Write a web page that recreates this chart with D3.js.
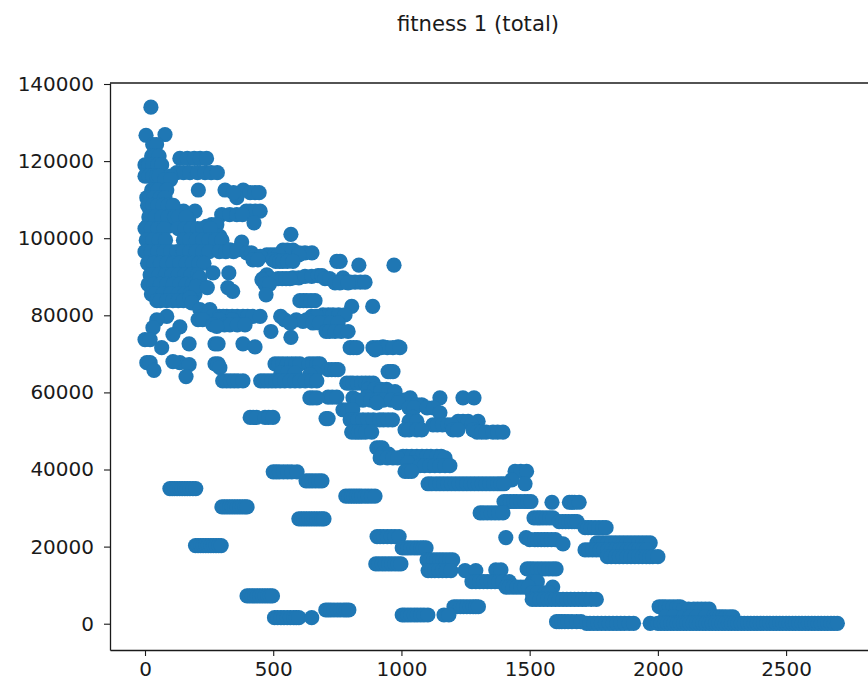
<!DOCTYPE html>
<html>
<head>
<meta charset="utf-8">
<script src="https://cdn.jsdelivr.net/npm/d3@7"></script>
<style>
  body { margin: 0; background: #fff; overflow: hidden; }
  text { font-family: "DejaVu Sans", sans-serif; fill: #1a1a1a; }
</style>
</head>
<body>
<svg id="chart" width="868" height="689"></svg>
<script>
const TITLE = 'fitness 1 (total)';
const xTicks = [0, 500, 1000, 1500, 2000, 2500];
const yTicks = [0, 20000, 40000, 60000, 80000, 100000, 120000, 140000];

// each row: [fitness, [evaluations...]]
const topLeftRows = [
  [134000, [23]], [126700, [4]], [126900, [78]], [124300, [30, 45]], [121300, [26, 40, 55]],
  [120700, [136, 165, 192, 215, 240]], [119000, [0, 15, 30, 50, 65]],
  [117000, [124, 150, 175, 205, 234, 258, 282]],
  [116100, [0, 15, 30, 45, 55, 100]], [115200, [78, 100]], [112500, [26, 40, 50, 85, 208, 312, 383]],
  [110500, [7, 20, 35, 60, 78, 358]], [111800, [345, 410, 429, 445]], [107000, [20, 40, 60, 90, 117, 150, 195, 395, 410, 430, 449]],
  [106100, [299, 330, 358, 380]], [104800, [149, 170]], [104000, [425]], [103500, [260, 280]],
  [103100, [7, 25, 45, 70, 90, 175, 240]], [101000, [569]], [101400, [214, 240]], [100500, [286, 292]],
  [99000, [377]],
];
const massRows = [
  [108500, [10, 30, 50, 70, 90, 110]],
  [105500, [15, 40, 65, 90, 115, 130, 160]],
  [102500, [0, 25, 50, 75, 130, 155, 180, 205, 225, 255]],
  [99500, [5, 30, 55, 80, 150, 175, 200, 225, 250, 275, 300]],
  [96500, [0, 25, 50, 75, 100, 125, 150, 175, 200, 225, 250, 290, 315, 345]],
  [93500, [10, 35, 60, 85, 110, 135, 160, 185, 210, 230]],
  [90500, [20, 30, 55, 80, 105, 130, 155, 180, 205]],
  [88000, [12, 35, 60, 85, 110, 135, 160, 185, 205]],
  [85500, [25, 40, 70, 100, 130, 155, 175, 195]],
  [83800, [46, 60, 85, 109, 130, 150, 182]],
];
const upperMidRows = [
  [97000, [331, 360]], [96900, [538, 555, 577]], [96200, [397, 415, 600, 624, 651]],
  [95700, [475, 490, 505, 520, 600]], [95300, [429, 450]], [94400, [421, 440, 499]],
  [94000, [510, 525, 538, 555, 577, 748, 761]], [93000, [834, 971]], [91000, [265, 327]],
  [90500, [475]], [89700, [214, 577, 600, 772]], [90100, [624, 650]], [90300, [675, 690]],
  [89500, [460, 490, 519, 535, 550, 565, 702, 720]], [89200, [456]], [88600, [780, 800, 819, 840, 858]],
  [88400, [741, 760, 792]], [88000, [468, 485]], [87500, [200]], [87200, [243, 323]], [86200, [342]], [85300, [472]],
  [83800, [604, 618, 631, 647, 663]], [84500, [175]], [83200, [182]], [82300, [806, 888]],
  [81500, [214, 253]], [80100, [694, 715, 733, 755, 780]],
  [79700, [85, 225, 240, 265, 290, 305, 319, 340, 360, 382, 400, 420, 449, 529, 650, 670]],
  [78900, [207, 225, 290, 340]], [78800, [46, 545, 590, 630]], [78400, [616]], [78000, [566, 702, 655, 680, 725, 753]],
  [77500, [265, 310, 331, 360, 390]], [77100, [280]], [77000, [136]], [76800, [31]],
  [75800, [491, 706, 720, 741, 765, 792]],
  [75000, [109]], [74300, [569]], [73700, [0, 20]], [72600, [172, 273, 285, 382]],
  [71800, [429, 928, 987]], [71600, [65, 800, 813, 826, 889, 905, 920, 945, 967, 994]], [71000, [897]],
];
const midRows = [
  [67700, [7, 20, 136]], [68000, [109]],
  [67400, [273, 285, 507, 522, 538, 555, 572, 588, 604, 640, 655, 670, 682]],
  [67200, [172]], [66400, [292]], [65900, [714, 728, 742, 753]], [65700, [35]], [65400, [948, 957, 967]],
  [65000, [530, 555, 585, 663]], [64600, [643]], [64100, [160]],
  [63000, [303, 318, 333, 348, 363, 382, 451, 465, 480, 495, 510, 527, 545, 566, 585, 604, 625, 650, 670]],
  [62400, [787, 800, 811, 828, 845, 860, 875, 890]], [60800, [870, 895, 920, 942]], [60200, [920, 950, 975]],
  [58900, [865]], [58800, [714, 730, 748]],
  [58600, [643, 655, 670, 811, 1034, 1150, 1240, 1283]],
  [58000, [830, 850, 880, 905, 930, 960, 990, 1010]],
  [57300, [904, 987]], [56800, [1079, 1060]], [56000, [1030, 1050, 1100, 1125]],
  [55500, [772, 790, 810]], [54700, [1150]],
  [53500, [410, 422, 435, 468, 482, 499, 1045]], [53200, [706, 714]],
  [52900, [800, 815, 830, 850, 870, 890, 915, 930, 948, 965]],
  [52500, [1030, 1060, 1221, 1240, 1260, 1299]], [51600, [1123, 1140, 1160, 1180, 1196, 1274]],
  [50300, [1014, 1030, 1060, 1079, 1201, 1220, 1279]],
  [49700, [806, 820, 832, 845, 860, 884, 1295, 1313, 1330, 1357, 1375, 1396]],
  [45600, [904, 915, 925]], [44000, [925, 950]],
  [43400, [1006, 1020, 1040, 1060, 1080, 1099, 1115, 1138, 1155]], [43000, [917, 945, 967, 985, 1170]],
  [41700, [1045, 1025]], [41000, [1072, 1090, 1111, 1130, 1150, 1170, 1189]],
  [39500, [1014, 1027, 1040, 1443, 1465, 1488]],
];
const lowerRows = [
  [39400, [500, 512, 524, 540, 556, 572, 593]], [37300, [1430]], [37060, [628, 640, 652, 665, 678, 690]],
  [36300, [1104, 1118, 1135, 1150, 1165, 1180, 1195, 1210, 1225, 1240, 1255, 1270, 1285, 1300, 1315, 1330, 1345, 1360, 1375, 1388, 1400, 1482]],
  [35060, [97, 106, 115, 125, 135, 145, 155, 165, 175, 187, 198]],
  [33100, [783, 795, 805, 815, 825, 835, 845, 858, 870, 883, 897]],
  [31700, [1400, 1412, 1425, 1438, 1450, 1465, 1480, 1492, 1505]], [31500, [1587, 1655, 1665, 1675, 1693]],
  [30300, [300, 310, 320, 330, 340, 350, 360, 370, 380, 390, 398]],
  [28750, [1307, 1320, 1335, 1350, 1365, 1380, 1396]],
  [27450, [1517, 1530, 1540, 1552, 1565, 1578, 1591]], [27200, [600, 610, 620, 630, 640, 650, 660, 670, 680, 690, 698]],
  [26500, [1615, 1628, 1640, 1652, 1665, 1675, 1685]], [24900, [1716, 1728, 1740, 1755, 1770, 1785, 1798]],
  [22600, [905, 917, 930, 945, 960, 975, 991]], [22340, [1407, 1486]], [21800, [1500, 1520, 1532, 1545, 1558, 1570, 1585, 1600]],
  [21000, [1762, 1776, 1790, 1805, 1820, 1835, 1850, 1865, 1880, 1895, 1910, 1925, 1940, 1955, 1970]], [20700, [1630]],
  [20260, [197, 207, 217, 227, 237, 247, 257, 267, 277, 287, 297]], [19660, [1003, 1014, 1025, 1037, 1050, 1062, 1075, 1085, 1096]],
  [19150, [1716, 1730, 1745, 1760, 1775, 1790, 1805, 1820, 1835, 1850, 1865, 1880, 1895, 1910, 1925, 1940, 1955]],
  [17400, [1803, 1818, 1835, 1850, 1865, 1880, 1895, 1910, 1925, 1940, 1955, 1968, 1980, 2000]],
  [16550, [1100, 1112, 1125, 1138, 1150, 1162, 1175, 1188, 1200]], [15500, [900, 912, 925, 937, 950, 962, 975, 987, 998]],
  [14200, [1490, 1502, 1515, 1530, 1545, 1560, 1575, 1590, 1603]], [13950, [1368, 1388]],
  [13770, [1104, 1117, 1130, 1145, 1160, 1175, 1193, 1248, 1290]],
  [10900, [1275, 1290, 1305, 1320, 1335, 1350, 1365, 1380, 1395, 1420, 1510, 1530]],
  [9500, [1408, 1420, 1435, 1450, 1465, 1480, 1495, 1590]], [8000, [1510, 1530, 1560, 1575]],
  [7200, [398, 408, 418, 428, 438, 448, 458, 468, 478, 488, 497]],
];
const bottomRows = [
  [6300, [1510, 1525, 1540, 1555, 1570, 1585, 1600, 1615, 1630, 1645, 1660, 1675, 1690, 1705, 1720, 1740, 1760]],
  [4400, [1205, 1217, 1230, 1242, 1255, 1268, 1280, 1290, 1300, 2005, 2018, 2030, 2045, 2060, 2075, 2087]],
  [3800, [2100, 2120, 2140, 2155, 2170, 2185, 2200]], [3560, [705, 715, 725, 737, 750, 762, 775, 785, 795]],
  [2260, [1003, 1013, 1025, 1037, 1050, 1062, 1075, 1088, 1103, 1166, 1185]],
  [1800, [2030, 2060, 2100, 2125, 2150, 2185, 2217, 2228, 2240, 2252, 2265, 2280, 2293]],
  [1560, [505, 517, 530, 542, 555, 567, 580, 590, 600, 650]],
  [520, [1605, 1615, 1625, 1637, 1650, 1665, 1683, 1700]],
  [100, [1722, 1735, 1750, 1765, 1780, 1795, 1810, 1825, 1840, 1855, 1870, 1888, 1905, 1970,
    2000, 2012, 2025, 2037, 2050, 2062, 2075, 2087, 2100, 2112, 2125, 2137, 2150, 2162, 2175, 2187,
    2200, 2212, 2225, 2237, 2250, 2262, 2275, 2287, 2300, 2312, 2325, 2337, 2350, 2362, 2375, 2387,
    2400, 2412, 2425, 2437, 2450, 2462, 2475, 2487, 2500, 2512, 2525, 2537, 2550, 2562, 2575, 2587,
    2600, 2612, 2625, 2637, 2650, 2662, 2675, 2687, 2700]],
];

const allRows = [...topLeftRows, ...massRows, ...upperMidRows, ...midRows, ...lowerRows, ...bottomRows];
const points = allRows.flatMap(([fitness, evals]) => evals.map((e) => ({ e, fitness })));

const svg = d3.select('#chart');

const x = d3.scaleLinear().domain([-136.5, 2835]).range([110, 872]);
const y = d3.scaleLinear().domain([-6820, 140260]).range([650, 83]);

// ---------- points ----------

svg
  .append('g')
  .selectAll('circle')
  .data(points)
  .join('circle')
  .attr('cx', (d) => x(d.e))
  .attr('cy', (d) => y(d.fitness))
  .attr('r', 7.6)
  .attr('fill', '#1f77b4');

// ---------- axes ----------

const styleAxis = (g) => {
  g.select('.domain').attr('stroke', '#1a1a1a').attr('stroke-width', 1.3);
  g.selectAll('.tick line').attr('stroke', '#1a1a1a').attr('stroke-width', 1.1);
  g.selectAll('.tick text').attr('font-size', 20).attr('fill', '#1a1a1a');
};

svg
  .append('g')
  .attr('transform', 'translate(0,650)')
  .call(d3.axisBottom(x).tickValues(xTicks).tickFormat(d3.format('d')).tickSize(6).tickPadding(6).tickSizeOuter(0))
  .call(styleAxis);

svg
  .append('g')
  .attr('transform', 'translate(110,0)')
  .call(d3.axisLeft(y).tickValues(yTicks).tickFormat(d3.format('d')).tickSize(6).tickPadding(10).tickSizeOuter(0))
  .call(styleAxis);

svg
  .append('line')
  .attr('x1', 110)
  .attr('x2', 868)
  .attr('y1', 83)
  .attr('y2', 83)
  .attr('stroke', '#1a1a1a')
  .attr('stroke-width', 1.3);

svg
  .append('text')
  .attr('x', 478)
  .attr('y', 31)
  .attr('text-anchor', 'middle')
  .attr('font-size', 21.2)
  .text(TITLE);
</script>
</body>
</html>
